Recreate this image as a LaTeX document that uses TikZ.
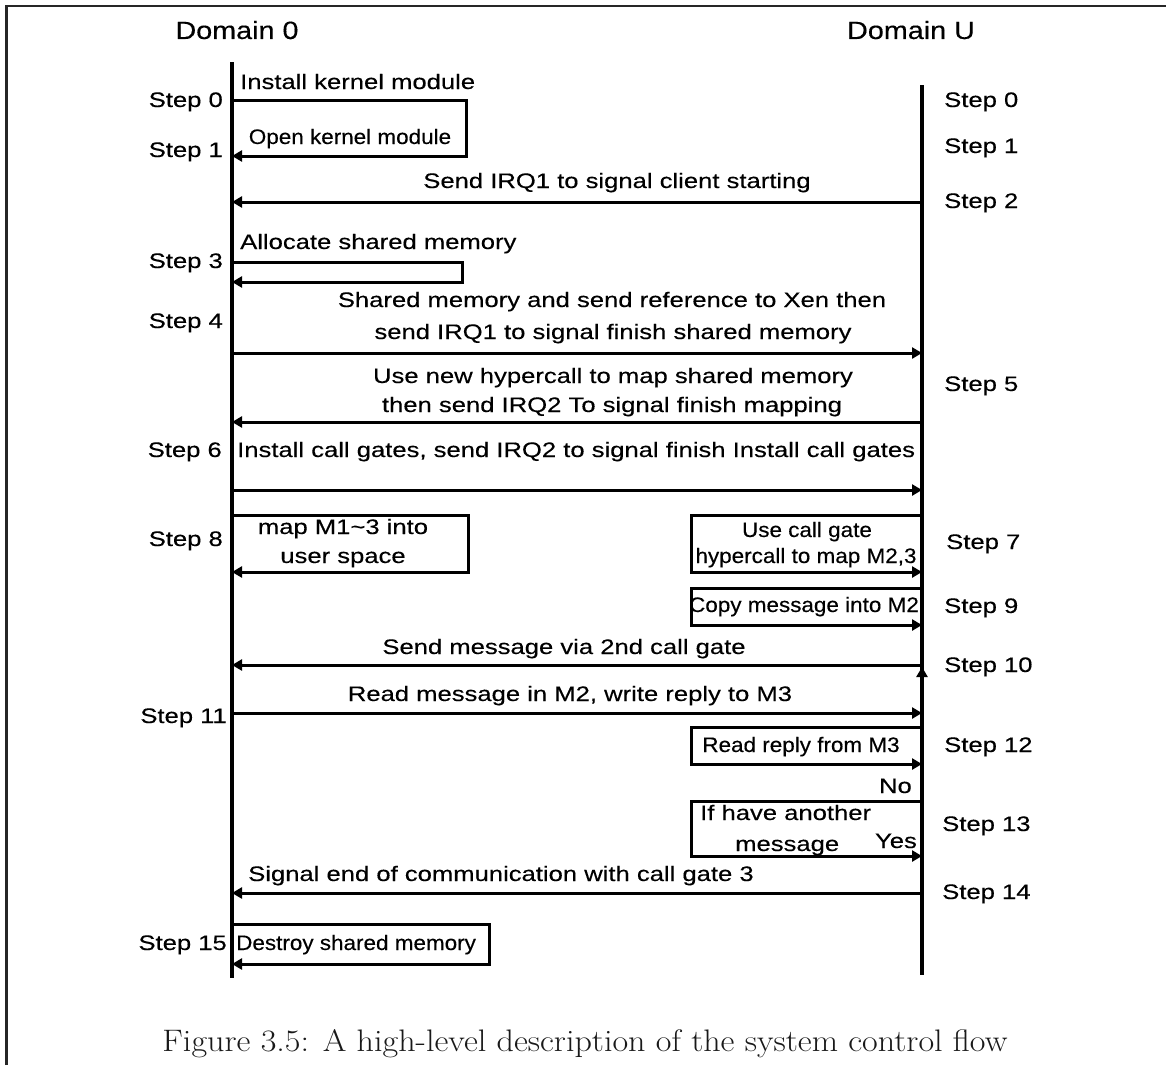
\documentclass[tikz,border=0pt]{standalone}
\usepackage{fontspec}
\usepackage{graphicx}
\usetikzlibrary{arrows.meta}
\newfontfamily\mainsf[FakeStretch=1.22,FakeBold=0.3]{Liberation Sans}
\newfontfamily\smallsf[FakeStretch=1.07,FakeBold=0.3]{Liberation Sans}
\newfontfamily\domsf[FakeStretch=1.15,FakeBold=0.3]{Liberation Sans}
\begin{document}
\begin{tikzpicture}[x=1pt,y=-1pt,
  lbl/.style={inner sep=0pt, font=\mainsf\fontsize{21}{25}\selectfont},
  slbl/.style={inner sep=0pt, font=\smallsf\fontsize{21}{25}\selectfont},
  dom/.style={inner sep=0pt, font=\domsf\fontsize{25}{30}\selectfont},
  life/.style={line width=3.6pt},
  msg/.style={line width=3pt, -{Triangle[length=10pt,width=11pt]}},
  frame/.style={line width=2.8pt, black!85}]
\useasboundingbox (0,0) rectangle (1166,1065);
% frame
\coordinate (fA) at (6.5,1065);
\coordinate (fB) at (6.5,6);
\coordinate (fC) at (1166,6);
\draw[frame] (fA) -- (fB) -- (fC);
% domains
\node[dom, anchor=base] (d0) at (237,39) {Domain 0};
\node[dom, anchor=base] (dU) at (911,39) {Domain U};
% lifelines
\coordinate (Lt) at (232,62);
\coordinate (Lb) at (232,978);
\coordinate (Rt) at (922,85);
\coordinate (Rb) at (922,975);
\draw[life] (Lt) -- (Lb);
\draw[life] (Rt) -- (Rb);
% left step labels
\node[lbl, anchor=base east] (sl0) at (223,107) {Step 0};
\node[lbl, anchor=base east] (sl1) at (223,157) {Step 1};
\node[lbl, anchor=base east] (sl3) at (223,268) {Step 3};
\node[lbl, anchor=base east] (sl4) at (223,328) {Step 4};
\node[lbl, anchor=base east] (sl6) at (222,457) {Step 6};
\node[lbl, anchor=base east] (sl8) at (223,546) {Step 8};
\node[lbl, anchor=base east] (sl11) at (227,723) {Step 11};
\node[lbl, anchor=base east] (sl15) at (227,950) {Step 15};
% right step labels
\node[lbl, anchor=base west] (sr0) at (944,107) {Step 0};
\node[lbl, anchor=base west] (sr1) at (944,153) {Step 1};
\node[lbl, anchor=base west] (sr2) at (944,208) {Step 2};
\node[lbl, anchor=base west] (sr5) at (944,391) {Step 5};
\node[lbl, anchor=base west] (sr7) at (946,549) {Step 7};
\node[lbl, anchor=base west] (sr9) at (944,613) {Step 9};
\node[lbl, anchor=base west] (sr10) at (944,672) {Step 10};
\node[lbl, anchor=base west] (sr12) at (944,752) {Step 12};
\node[lbl, anchor=base west] (sr13) at (942,831) {Step 13};
\node[lbl, anchor=base west] (sr14) at (942,899) {Step 14};
% message texts
\node[lbl, anchor=base west] (t0) at (240,89) {Install kernel module};
\node[slbl, anchor=base] (t1) at (350,144) {Open kernel module};
\node[lbl, anchor=base] (t2) at (617,188) {Send IRQ1 to signal client starting};
\node[lbl, anchor=base west] (t3) at (240,249) {Allocate shared memory};
\node[lbl, anchor=base] (t4a) at (612,307) {Shared memory and send reference to Xen then};
\node[lbl, anchor=base] (t4b) at (613,339) {send IRQ1 to signal finish shared memory};
\node[lbl, anchor=base] (t5a) at (613,383) {Use new hypercall to map shared memory};
\node[lbl, anchor=base] (t5b) at (612,412) {then send IRQ2 To signal finish mapping};
\node[lbl, anchor=base west] (t6) at (237,457) {Install call gates, send IRQ2 to signal finish Install call gates};
\node[lbl, anchor=base] (t8a) at (343,534) {map M1\textasciitilde 3 into};
\node[lbl, anchor=base] (t8b) at (343,563) {user space};
\node[slbl, anchor=base] (t7a) at (807,537) {Use call gate};
\node[slbl, anchor=base] (t7b) at (806,563) {hypercall to map M2,3};
\node[slbl, anchor=base] (t9) at (804,612) {Copy message into M2};
\node[lbl, anchor=base] (t10) at (564,654) {Send message via 2nd call gate};
\node[lbl, anchor=base] (t11) at (570,701) {Read message in M2, write reply to M3};
\node[slbl, anchor=base] (t12) at (801,752) {Read reply from M3};
\node[lbl, anchor=base east] (tno) at (912,793) {No};
\node[lbl, anchor=base west] (t13a) at (700,820) {If have another};
\node[lbl, anchor=base west] (t13b) at (735,851) {message};
\node[lbl, anchor=base east] (tyes) at (917,848) {Yes};
\node[lbl, anchor=base] (t14) at (501,881) {Signal end of communication with call gate 3};
\node[slbl, anchor=base west] (t15) at (236,950) {Destroy shared memory};
% arrow coordinates
\coordinate (a0s) at (232,100); \coordinate (a0c) at (466,156); \coordinate (a0e) at (232,156);
\coordinate (a2s) at (922,202); \coordinate (a2e) at (232,202);
\coordinate (a3s) at (232,262); \coordinate (a3c) at (462,282); \coordinate (a3e) at (232,282);
\coordinate (a4s) at (232,353); \coordinate (a4e) at (922,353);
\coordinate (a5s) at (922,422); \coordinate (a5e) at (232,422);
\coordinate (a6s) at (232,490); \coordinate (a6e) at (922,490);
\coordinate (a8s) at (232,515); \coordinate (a8c) at (468,572); \coordinate (a8e) at (232,572);
\coordinate (a7s) at (922,515); \coordinate (a7c) at (691,572); \coordinate (a7e) at (922,572);
\coordinate (a9s) at (922,588); \coordinate (a9c) at (691,625); \coordinate (a9e) at (922,625);
\coordinate (a10s) at (922,665); \coordinate (a10e) at (232,665);
\coordinate (u10s) at (922,682); \coordinate (u10e) at (922,667);
\coordinate (a11s) at (232,713); \coordinate (a11e) at (922,713);
\coordinate (a12s) at (922,727); \coordinate (a12c) at (691,764); \coordinate (a12e) at (922,764);
\coordinate (a13s) at (922,801); \coordinate (a13c) at (691,856); \coordinate (a13e) at (922,856);
\coordinate (a14s) at (922,893); \coordinate (a14e) at (232,893);
\coordinate (a15s) at (232,924); \coordinate (a15c) at (489,964); \coordinate (a15e) at (232,964);
% arrows
\draw[msg] (a0s) -| (a0c) -- (a0e);
\draw[msg] (a2s) -- (a2e);
\draw[msg] (a3s) -| (a3c) -- (a3e);
\draw[msg] (a4s) -- (a4e);
\draw[msg] (a5s) -- (a5e);
\draw[msg] (a6s) -- (a6e);
\draw[msg] (a8s) -| (a8c) -- (a8e);
\draw[msg] (a7s) -| (a7c) -- (a7e);
\draw[msg] (a9s) -| (a9c) -- (a9e);
\draw[msg] (a10s) -- (a10e);
\draw[msg] (u10s) -- (u10e);
\draw[msg] (a11s) -- (a11e);
\draw[msg] (a12s) -| (a12c) -- (a12e);
\draw[msg] (a13s) -| (a13c) -- (a13e);
\draw[msg] (a14s) -- (a14e);
\draw[msg] (a15s) -| (a15c) -- (a15e);
% caption
\node[anchor=base, inner sep=0pt, text=black!90] (cap) at (585,1051)
  {\resizebox{845pt}{22pt}{\fontsize{26}{30}\selectfont Figure 3.5: A high-level description of the system control flow}};
\end{tikzpicture}
\end{document}
